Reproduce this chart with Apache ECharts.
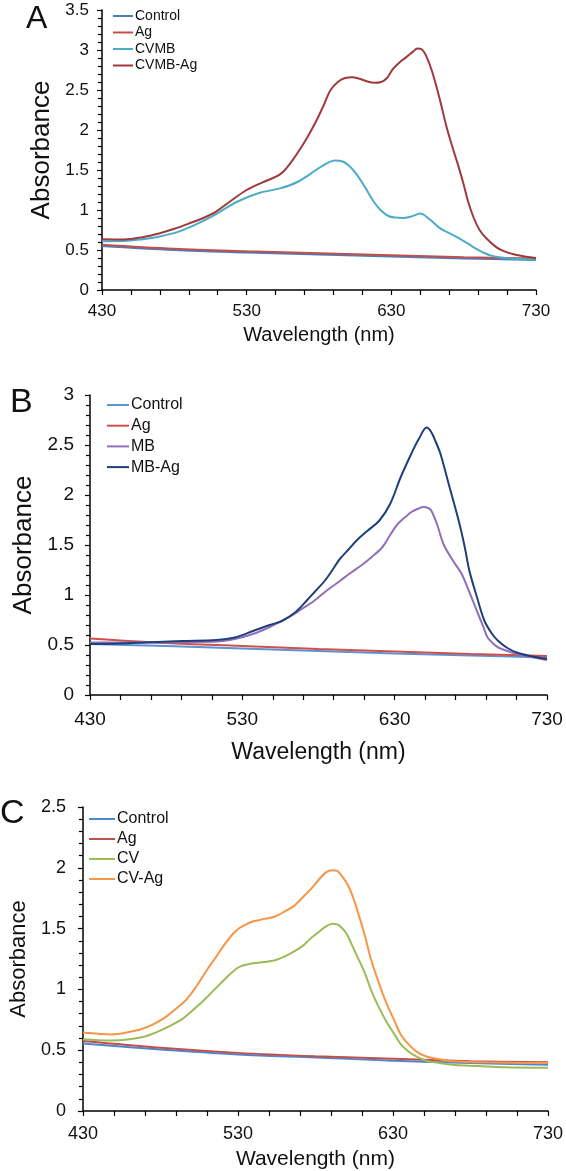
<!DOCTYPE html>
<html>
<head>
<meta charset="utf-8">
<script src="https://cdn.jsdelivr.net/npm/echarts@6/dist/echarts.min.js"></script>
<style>
html,body{margin:0;padding:0;background:#fff;}
#chart{width:566px;height:1171px;}
</style>
</head>
<body>
<div id="chart"></div>
<script>
// ---------- Data (wavelength in nm, absorbance) ----------
// Panel A
const aBaseX = [430, 480, 530, 580, 630, 680, 730];
const aControlY = [0.55, 0.50, 0.47, 0.445, 0.42, 0.395, 0.375];
const aAgY = [0.565, 0.515, 0.485, 0.46, 0.435, 0.41, 0.395];
const aCvmbX = [430,445,458,470,483,495,508,523,538,553,565,578,585,591,596,601,606,612,618,623,628,633,638,644,650,656,663,669,676,683,689,694,699,706,714,722,730];
const aCvmbY = [0.61,0.612,0.635,0.67,0.73,0.82,0.94,1.10,1.21,1.27,1.35,1.50,1.58,1.62,1.61,1.55,1.445,1.28,1.10,0.99,0.925,0.905,0.90,0.92,0.955,0.89,0.78,0.72,0.655,0.58,0.51,0.465,0.43,0.405,0.39,0.385,0.38];
const aCvmbAgX = [430,445,458,470,480,490,500,508,518,530,541,553,560,570,578,583,588,593,598,603,608,613,618,623,627,631,636,641,645,648,651,654,658,663,668,672,676,680,683,687,691,696,703,710,716,723,730];
const aCvmbAgY = [0.635,0.632,0.66,0.71,0.765,0.83,0.90,0.97,1.10,1.25,1.345,1.445,1.58,1.85,2.11,2.30,2.50,2.60,2.65,2.66,2.64,2.61,2.59,2.60,2.65,2.76,2.85,2.92,2.98,3.02,3.01,2.93,2.74,2.42,2.05,1.80,1.57,1.32,1.11,0.90,0.75,0.64,0.53,0.47,0.44,0.415,0.40];

// Panel B
const bBaseX = [430, 480, 530, 580, 630, 680, 730];
const bControlY = [0.51, 0.49, 0.465, 0.44, 0.415, 0.395, 0.375];
const bAgY = [0.565, 0.52, 0.49, 0.46, 0.435, 0.41, 0.39];
const bMbX = [430,466,490,513,525,537,548,560,568,577,585,594,601,608,615,622,627,632,637,641,645,649,652,654,658,662,668,674,679,684,688,691,695,698,704,710,720,730];
const bMbY = [0.525,0.525,0.53,0.535,0.56,0.61,0.68,0.775,0.85,0.94,1.04,1.14,1.22,1.295,1.38,1.48,1.60,1.71,1.78,1.83,1.86,1.88,1.87,1.845,1.70,1.51,1.35,1.21,1.03,0.84,0.69,0.575,0.51,0.475,0.44,0.41,0.38,0.35];
const bMbAgX = [430,450,466,490,513,525,537,548,556,565,572,578,584,590,594,600,605,612,620,627,634,641,646,651,654,657,660,666,672,676,679,684,689,694,698,704,710,719,730];
const bMbAgY = [0.51,0.515,0.525,0.54,0.55,0.575,0.64,0.70,0.74,0.83,0.94,1.04,1.14,1.27,1.36,1.46,1.545,1.64,1.745,1.91,2.18,2.415,2.565,2.675,2.63,2.53,2.415,2.08,1.745,1.48,1.245,0.98,0.74,0.61,0.54,0.47,0.425,0.39,0.36];

// Panel C
const cBaseX = [430, 480, 530, 580, 630, 680, 730];
const cControlY = [0.555, 0.505, 0.465, 0.44, 0.414, 0.395, 0.38];
const cAgY = [0.575, 0.52, 0.478, 0.45, 0.43, 0.41, 0.40];
const cCvX = [430,448,460,471,483,494,501,508,515,522,527,531,536,540,547,554,560,566,572,577,582,587,591,594,596,600,603,607,612,616,621,626,631,635,640,645,651,660,668,685,702,730];
const cCvY = [0.59,0.58,0.59,0.617,0.68,0.755,0.83,0.91,1.00,1.09,1.15,1.185,1.205,1.215,1.225,1.24,1.27,1.31,1.36,1.42,1.47,1.52,1.54,1.535,1.52,1.46,1.38,1.27,1.13,0.99,0.85,0.73,0.63,0.55,0.49,0.45,0.415,0.395,0.38,0.37,0.36,0.355];
const cCvAgX = [430,440,448,458,467,475,483,490,497,504,510,516,522,527,531,536,540,547,554,560,566,572,577,582,587,591,594,596,600,603,607,612,616,621,626,631,635,640,645,651,660,668,691,730];
const cCvAgY = [0.645,0.635,0.63,0.645,0.67,0.71,0.77,0.84,0.92,1.04,1.16,1.27,1.38,1.46,1.505,1.54,1.56,1.58,1.60,1.64,1.685,1.76,1.825,1.90,1.965,1.98,1.975,1.95,1.88,1.80,1.65,1.435,1.24,1.05,0.88,0.74,0.63,0.55,0.49,0.45,0.425,0.41,0.40,0.395];

// Axis tick settings (labels)
const xMin = 430, xMax = 730, xStep = 100;
const yMaxA = 3.5, yMaxB = 3, yMaxC = 2.5, yStep = 0.5;

// ---------- Build chart ----------
const FONT = '"Liberation Sans", Arial, sans-serif';
const zip = (xs, ys) => xs.map((x, i) => [x, ys[i]]);

const panels = [
  { key: 'A', grid: {left: 102, top: 10, width: 434, height: 280}, yMax: yMaxA,
    tick: 17, xMargin: 13, yMargin: 13, yName: 26, yGap: 46, xName: 20, xGap: 35,
    legend: {left: 113, top: 9, font: 14, gap: 2.5, w: 20},
    series: [
      ['Control', zip(aBaseX, aControlY), '#4a7ebb'],
      ['Ag', zip(aBaseX, aAgY), '#c0504d'],
      ['CVMB', zip(aCvmbX, aCvmbY), '#4bacc6'],
      ['CVMB-Ag', zip(aCvmbAgX, aCvmbAgY), '#a0393c']
    ]},
  { key: 'B', grid: {left: 90, top: 395, width: 457, height: 300}, yMax: yMaxB,
    tick: 19, xMargin: 15, yMargin: 16, yName: 26, yGap: 45, xName: 23, xGap: 46,
    legend: {left: 107, top: 397, font: 16, gap: 4.7, w: 22},
    series: [
      ['Control', zip(bBaseX, bControlY), '#5b93d3'],
      ['Ag', zip(bBaseX, bAgY), '#d0504d'],
      ['MB', zip(bMbX, bMbY), '#9070b8'],
      ['MB-Ag', zip(bMbAgX, bMbAgY), '#1f3f7a']
    ]},
  { key: 'C', grid: {left: 80, top: 807, width: 468, height: 304}, yMax: yMaxC,
    tick: 18, xMargin: 14, yMargin: 17, yName: 22, yGap: 46, xName: 21, xGap: 38,
    legend: {left: 89, top: 811, font: 16, gap: 4, w: 26},
    series: [
      ['Control', zip(cBaseX, cControlY), '#4f86d0'],
      ['Ag', zip(cBaseX, cAgY), '#c0504d'],
      ['CV', zip(cCvX, cCvY), '#9bbb59'],
      ['CV-Ag', zip(cCvAgX, cCvAgY), '#f79646']
    ]}
];

const option = {
  animation: false,
  backgroundColor: '#fff',
  textStyle: {fontFamily: FONT},
  grid: [], xAxis: [], yAxis: [], legend: [], series: [],
  graphic: [
    {type: 'text', left: 26, top: 3, style: {text: 'A', font: '32px ' + FONT, fill: '#111'}},
    {type: 'text', left: 10, top: 386, style: {text: 'B', font: '34px ' + FONT, fill: '#111'}},
    {type: 'text', left: 0, top: 797, style: {text: 'C', font: '34px ' + FONT, fill: '#111'}}
  ]
};

panels.forEach((p, i) => {
  option.grid.push(Object.assign({containLabel: false}, p.grid));
  option.xAxis.push({
    type: 'value', gridIndex: i, min: xMin, max: xMax, interval: xStep,
    name: 'Wavelength (nm)', nameLocation: 'middle', nameGap: p.xGap,
    nameTextStyle: {fontSize: p.xName, color: '#111', fontFamily: FONT},
    axisLine: {show: true, lineStyle: {color: '#000', width: 1.5}},
    axisTick: {show: true, length: 5, lineStyle: {color: '#000', width: 1.2}},
    minorTick: {show: true, splitNumber: 5, length: 5, lineStyle: {color: '#000', width: 1.2}},
    axisLabel: {fontSize: p.tick, color: '#111', margin: p.xMargin, fontFamily: FONT},
    splitLine: {show: false}, minorSplitLine: {show: false}
  });
  option.yAxis.push({
    type: 'value', gridIndex: i, min: 0, max: p.yMax, interval: yStep,
    name: 'Absorbance', nameLocation: 'middle', nameGap: p.yGap,
    nameTextStyle: {fontSize: p.yName, color: '#111', fontFamily: FONT},
    axisLine: {show: true, lineStyle: {color: '#000', width: 1.5}},
    axisTick: {show: true, length: 5, lineStyle: {color: '#000', width: 1.2}},
    minorTick: {show: true, splitNumber: 5, length: 4, lineStyle: {color: '#000', width: 1.2}},
    axisLabel: {fontSize: p.tick, color: '#111', margin: p.yMargin, fontFamily: FONT},
    splitLine: {show: false}, minorSplitLine: {show: false}
  });
  option.legend.push({
    orient: 'vertical', left: p.legend.left, top: p.legend.top, padding: 0,
    itemGap: p.legend.gap, itemWidth: p.legend.w, itemHeight: 2, icon: 'rect',
    selectedMode: false,
    data: p.series.map(s => p.key + '|' + s[0]),
    formatter: n => n.split('|')[1],
    textStyle: {fontSize: p.legend.font, color: '#111', fontFamily: FONT, padding: [0, 0, 0, -3]}
  });
  p.series.forEach(s => {
    option.series.push({
      type: 'line', name: p.key + '|' + s[0], xAxisIndex: i, yAxisIndex: i,
      data: s[1], showSymbol: false, symbol: 'none', smooth: 0.35,
      color: s[2], lineStyle: {width: 2, color: s[2]}
    });
  });
});

const chart = echarts.init(document.getElementById('chart'), null, {renderer: 'canvas'});
chart.setOption(option);
</script>
</body>
</html>
